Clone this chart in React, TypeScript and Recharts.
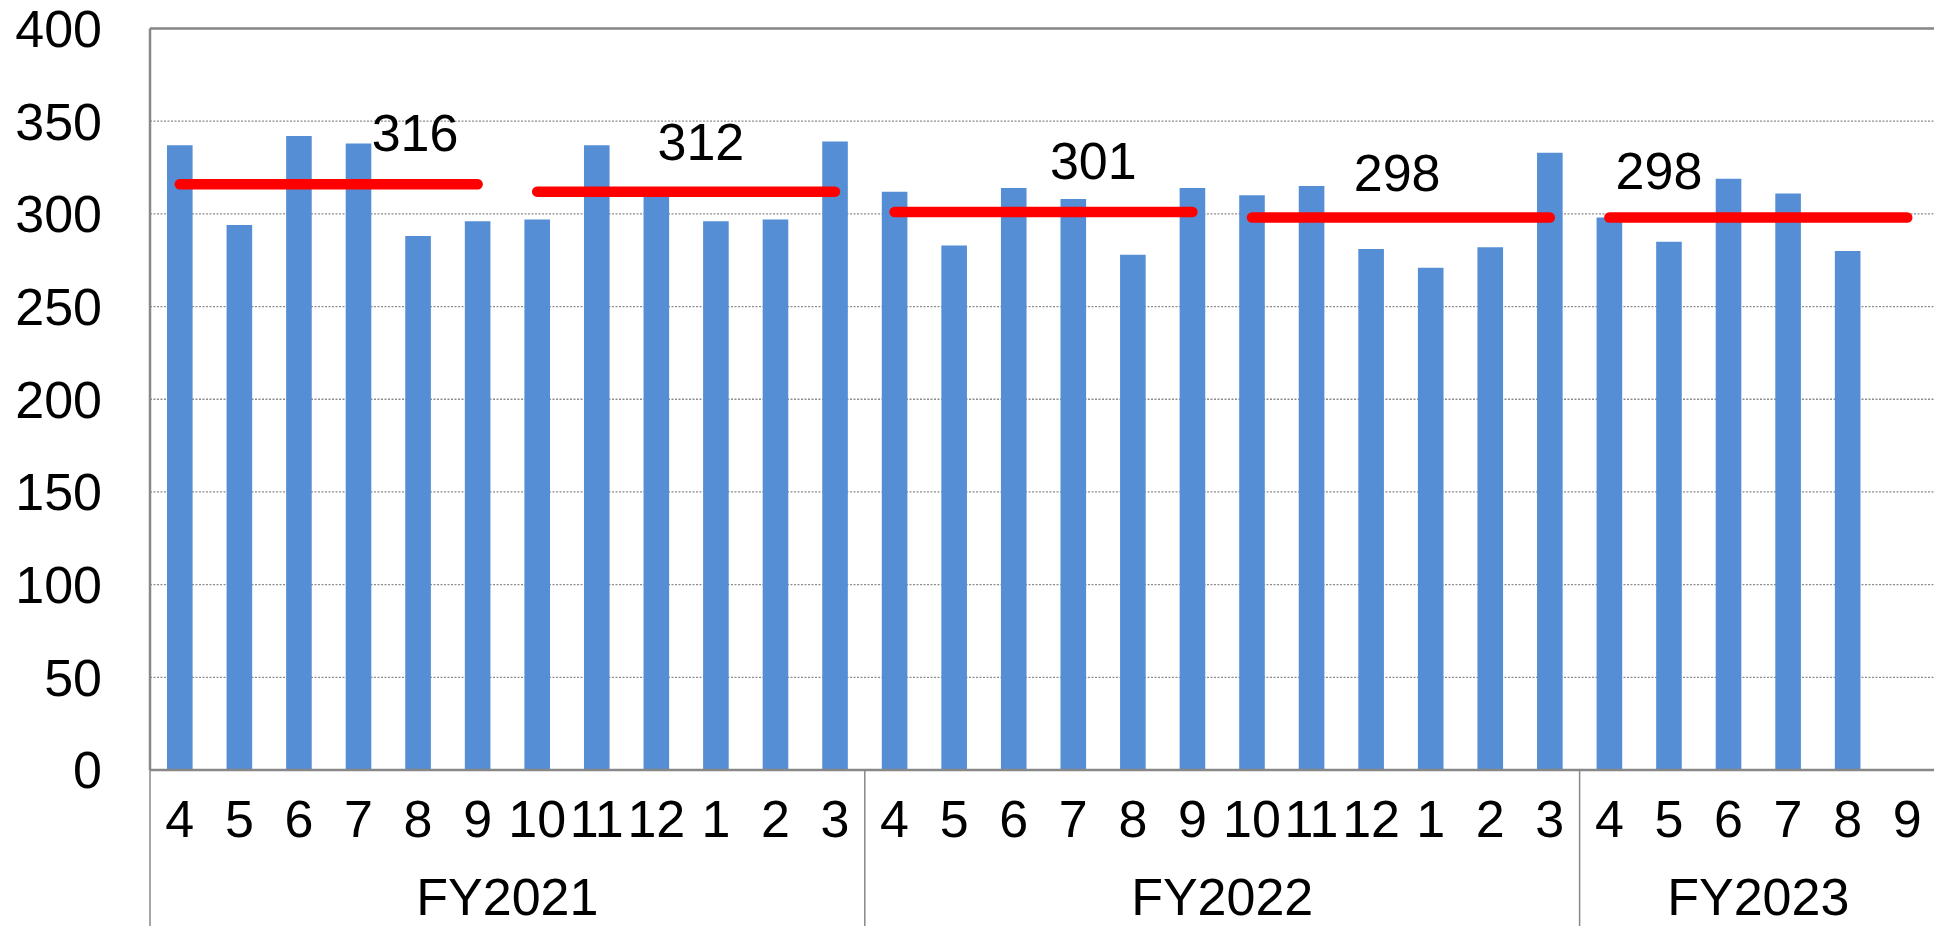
import React from 'react';
import { ComposedChart, Bar, Line, XAxis, YAxis, CartesianGrid, ReferenceLine } from 'recharts';

// ---- data ----
const months = ['4','5','6','7','8','9','10','11','12','1','2','3','4','5','6','7','8','9','10','11','12','1','2','3','4','5','6','7','8','9'];
const fiscalYears = [
  'FY2021','FY2021','FY2021','FY2021','FY2021','FY2021','FY2021','FY2021','FY2021','FY2021','FY2021','FY2021',
  'FY2022','FY2022','FY2022','FY2022','FY2022','FY2022','FY2022','FY2022','FY2022','FY2022','FY2022','FY2022',
  'FY2023','FY2023','FY2023','FY2023','FY2023','FY2023',
];
const monthlyValues: (number | null)[] = [
  337, 294, 342, 338, 288, 296, 297, 337, 310, 296, 297, 339,
  312, 283, 314, 308, 278, 314, 310, 315, 281, 271, 282, 333,
  298, 285, 319, 311, 280, null,
];
const halfYearAverages = [316, 312, 301, 298, 298];
const halfYearStartIndex = [0, 6, 12, 18, 24];
const halfYearLength = 6;
const yTicks = [0, 50, 100, 150, 200, 250, 300, 350, 400];

// ---- layout / style (not data) ----
const CHART_W = 1940;
const CHART_H = 926;
const MARGIN = { top: 28.5, right: 3, bottom: 0, left: 0 };
const Y_AXIS_W = 150;
const X_AXIS_H = 78;
const PLOT_W = CHART_W - MARGIN.left - MARGIN.right - Y_AXIS_W;
const BAND = PLOT_W / months.length;
const FONT = '"Liberation Sans", Arial, sans-serif';
const FS = 52;
const AXIS_GRAY = '#888888';
// label placement relative to a chosen point on each average line
const labelAnchorIndex = [4, 9, 15, 20, 25];
const labelDx = [-3, -15, 20, 26, -10];
const labelDy = [-52, -50, -52, -45, -47];

const data = months.map((m, i) => {
  const row: any = { month: m, fy: fiscalYears[i], value: monthlyValues[i] };
  halfYearAverages.forEach((avg, k) => {
    const s = halfYearStartIndex[k];
    row['avg' + k] = i >= s && i < s + halfYearLength ? avg : null;
  });
  return row;
});

// group info for FY axis
const groupStart: Record<string, number> = {};
const groupLen: Record<string, number> = {};
fiscalYears.forEach((fy, i) => {
  if (groupStart[fy] === undefined) groupStart[fy] = i;
  groupLen[fy] = (groupLen[fy] || 0) + 1;
});

const FyTick = (props: any) => {
  const { x, y, payload } = props;
  const i = payload.index;
  const fy = fiscalYears[i];
  const s = groupStart[fy];
  const n = groupLen[fy];
  const els: any[] = [];
  if (i === s) {
    const bx = x - BAND / 2;
    els.push(<line key="b" x1={bx} x2={bx} y1={y - X_AXIS_H} y2={CHART_H} stroke={AXIS_GRAY} strokeWidth={1.5} />);
  }
  const mid = s + Math.floor(n / 2);
  if (i === mid) {
    const tx = n % 2 === 0 ? x - BAND / 2 : x;
    els.push(
      <text key="t" x={tx} y={y + 30} dy="0.71em" textAnchor="middle" fontSize={FS} fontFamily={FONT} fill="#000">
        {fy}
      </text>
    );
  }
  return <g>{els}</g>;
};

const makeAvgLabel = (k: number) => (p: any) => {
  if (p.index !== labelAnchorIndex[k] || p.x == null || p.y == null) return <g />;
  return (
    <text x={p.x + labelDx[k]} y={p.y + labelDy[k] + 0.358 * FS} textAnchor="middle" fontSize={FS} fontFamily={FONT} fill="#000">
      {halfYearAverages[k]}
    </text>
  );
};

export default function App() {
  return (
    <div style={{ width: 1934, height: 926, overflow: 'hidden', position: 'relative', background: '#fff' }}>
      <style>{`body{margin:0;overflow:hidden;background:#fff}`}</style>
      <ComposedChart width={CHART_W} height={CHART_H} data={data} margin={MARGIN}>
        <CartesianGrid vertical={false} stroke="#8c8c8c" strokeWidth={1.3} strokeDasharray="2 1.5" />
        <XAxis
          dataKey="month"
          interval={0}
          tickLine={false}
          tickSize={0}
          tickMargin={30}
          height={X_AXIS_H}
          axisLine={{ stroke: AXIS_GRAY, strokeWidth: 2.3 }}
          tick={{ fontSize: FS, fontFamily: FONT, fill: '#000' }}
        />
        <XAxis
          xAxisId={1}
          dataKey="fy"
          interval={0}
          tickLine={false}
          axisLine={false}
          tickSize={0}
          tickMargin={0}
          height={X_AXIS_H}
          tick={<FyTick />}
        />
        <YAxis
          domain={[0, 400]}
          ticks={yTicks}
          interval={0}
          width={Y_AXIS_W}
          tickLine={false}
          tickSize={0}
          tickMargin={48}
          axisLine={{ stroke: AXIS_GRAY, strokeWidth: 2.5 }}
          tick={{ fontSize: FS, fontFamily: FONT, fill: '#000' }}
        />
        <ReferenceLine y={400} stroke={AXIS_GRAY} strokeWidth={2.5} />
        <Bar dataKey="value" fill="#558ed5" barSize={25.6} isAnimationActive={false} />
        {halfYearAverages.map((_, k) => (
          <Line
            key={k}
            dataKey={'avg' + k}
            stroke="#ff0000"
            strokeWidth={10.5}
            strokeLinecap="round"
            dot={false}
            activeDot={false}
            isAnimationActive={false}
            label={makeAvgLabel(k)}
          />
        ))}
      </ComposedChart>
    </div>
  );
}
